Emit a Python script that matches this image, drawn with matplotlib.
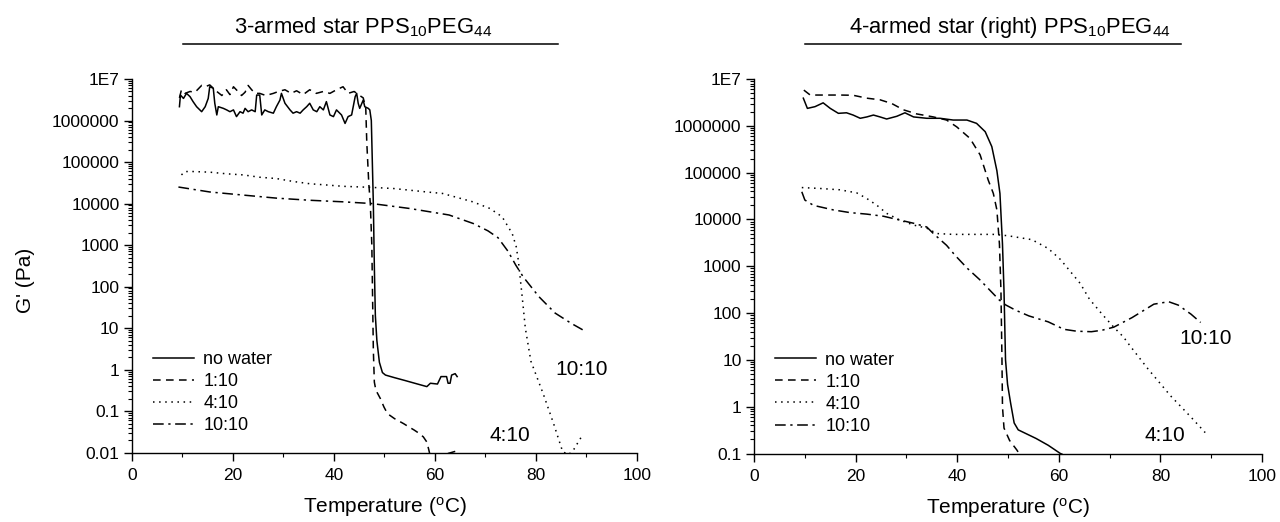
import matplotlib
matplotlib.use("Agg")
import matplotlib.pyplot as plt
from matplotlib.lines import Line2D
from matplotlib.ticker import FixedLocator, FixedFormatter, MultipleLocator, LogLocator, NullFormatter

plt.rcParams["font.family"] = ["Liberation Sans", "DejaVu Sans"]
plt.rcParams["mathtext.fontset"] = "custom"
plt.rcParams["mathtext.rm"] = "Liberation Sans"
plt.rcParams["mathtext.it"] = "Liberation Sans:italic"
plt.rcParams["mathtext.default"] = "regular"

# ---------------- data: 3-armed star (left) ----------------
l_nowater_T = [9.4, 9.6, 10.2, 10.8, 11.5, 12.1, 12.8, 13.8, 14.5, 15.1, 15.4, 16.1, 16.4, 16.8,
               17.1, 18.1, 18.75, 19.4, 20.1, 20.7, 21.4, 22.0, 22.4, 23.0, 23.7, 24.4, 24.7,
               25.3, 25.7, 26.3, 27.0, 28.0, 28.6, 29.3, 29.6, 30.3, 31.3, 31.9, 32.6, 33.3,
               33.9, 34.6, 35.2, 35.9, 36.6, 37.2, 37.9, 38.5, 39.2, 39.9, 40.5, 41.5, 42.2,
               42.8, 43.5, 44.2, 44.5, 44.8, 45.1, 45.8, 46.1, 46.8, 47.1, 47.4, 47.6, 47.8,
               48.0, 48.2, 48.5, 49.0, 49.6, 50.2, 52.0, 54.0, 56.0, 58.4, 59.1, 60.5, 61.2,
               62.3, 62.6, 63.0, 63.3, 64.0, 64.4]
l_nowater_G = [2.15e6, 4.1e6, 3.4e6, 4.5e6, 3.75e6, 2.85e6, 2.15e6, 1.63e6, 2.15e6, 3.4e6, 6.5e6,
               6.0e6, 2.6e6, 1.36e6, 2.15e6, 1.96e6, 1.8e6, 1.63e6, 1.8e6, 1.24e6, 1.63e6, 1.5e6,
               1.96e6, 1.63e6, 1.8e6, 1.63e6, 4.1e6, 4.1e6, 1.36e6, 1.8e6, 1.63e6, 1.5e6, 2.15e6,
               3.1e6, 4.5e6, 2.6e6, 1.8e6, 1.5e6, 1.63e6, 1.5e6, 1.8e6, 2.15e6, 2.6e6, 1.8e6,
               1.63e6, 2.15e6, 1.8e6, 2.85e6, 1.36e6, 1.24e6, 1.8e6, 1.36e6, 8.5e5, 1.24e6,
               1.36e6, 3.75e6, 4.5e6, 2.6e6, 1.96e6, 3.1e6, 2.15e6, 1.96e6, 1.8e6, 1.0e6, 1.0e5,
               1.0e4, 300, 20, 5, 1.5, 0.85, 0.74, 0.64, 0.55, 0.47, 0.39, 0.47, 0.45, 0.68,
               0.68, 0.47, 0.47, 0.74, 0.8, 0.68]

l_110_T = [9.4, 9.8, 10.5, 11.5, 12.5, 13.8, 14.5, 15.4, 16.1, 16.8, 17.8, 18.7, 19.4, 20.1,
           21.0, 21.7, 22.4, 23.0, 23.7, 24.4, 25.3, 26.5, 28.0, 29.0, 30.3, 31.5, 32.6, 33.9,
           35.2, 36.5, 37.9, 39.2, 40.5, 41.8, 42.8, 44.0, 45.1, 45.8, 46.3, 46.5, 46.9, 47.2,
           47.5, 47.8, 48.0, 48.3, 49.2, 49.9, 50.6, 52.0, 53.8, 54.8, 55.9, 56.9, 57.7, 58.4,
           58.8, 59.0, 61.6, 62.5, 64.3]
l_110_G = [3.5e6, 5.5e6, 4.5e6, 5.0e6, 4.8e6, 7.0e6, 6.5e6, 7.2e6, 6.0e6, 5.0e6, 4.0e6, 5.5e6,
           4.2e6, 6.5e6, 5.0e6, 4.0e6, 4.8e6, 7.0e6, 5.5e6, 4.5e6, 4.5e6, 4.0e6, 4.5e6, 5.0e6,
           5.5e6, 4.5e6, 5.2e6, 4.2e6, 5.5e6, 4.5e6, 5.0e6, 4.5e6, 5.5e6, 6.5e6, 4.5e6, 5.0e6,
           4.0e6, 3.5e6, 2.0e6, 3.0e5, 3.0e4, 1.0e4, 1.0e3, 3.0, 0.5, 0.32, 0.2, 0.126, 0.087,
           0.066, 0.05, 0.042, 0.035, 0.029, 0.024, 0.018, 0.0115, 0.009, 0.0092, 0.0095, 0.011]

l_410_T = [9.8, 10.5, 12.1, 15.4, 18.75, 22.0, 25.3, 28.6, 31.95, 35.2, 38.5, 41.8, 47.5, 51.8,
           58.4, 61.5, 64.4, 67.5, 70.9, 73.3, 75.3, 76.1, 76.5, 77.2, 77.9, 79.0, 81.5, 83.5,
           85.3, 86.5, 87.5, 89.0]
l_410_G = [4.9e4, 5.9e4, 5.9e4, 5.7e4, 5.2e4, 4.9e4, 4.3e4, 4.0e4, 3.4e4, 3.0e4, 2.8e4, 2.6e4,
           2.45e4, 2.3e4, 1.9e4, 1.75e4, 1.4e4, 1.1e4, 7.6e3, 4.8e3, 1.9e3, 910, 440, 70, 10,
           1.6, 0.25, 0.05, 0.0105, 0.009, 0.012, 0.024]

l_1010_T = [9.2, 15.4, 22.0, 28.6, 35.2, 41.8, 47.5, 55.0, 62.8, 67.6, 70.5, 72.5, 74.5, 76.0,
            77.5, 80.6, 83.8, 87.0, 89.4]
l_1010_G = [2.5e4, 1.9e4, 1.6e4, 1.35e4, 1.2e4, 1.1e4, 1.0e4, 7.6e3, 5.3e3, 3.3e3, 2.2e3,
            1.5e3, 700, 330, 170, 57, 23, 13, 8.9]

# ---------------- data: 4-armed star (right) ----------------
r_nowater_T = [9.7, 10.5, 12.0, 13.6, 15.0, 16.6, 18.2, 19.5, 20.9, 22.2, 23.5, 24.8, 26.1,
               28.1, 29.7, 31.4, 34.0, 36.6, 39.2, 41.9, 43.8, 45.5, 46.8, 47.8, 48.4, 48.9,
               49.2, 49.5, 49.9, 50.5, 51.2, 52.0, 55.5, 57.9, 60.3, 60.6]
r_nowater_G = [3.9e6, 2.36e6, 2.57e6, 3.1e6, 2.36e6, 1.85e6, 1.9e6, 1.7e6, 1.45e6, 1.55e6,
               1.7e6, 1.55e6, 1.4e6, 1.6e6, 1.9e6, 1.55e6, 1.45e6, 1.45e6, 1.33e6, 1.33e6,
               1.13e6, 7.5e5, 3.6e5, 1.1e5, 3.6e4, 3.0e3, 300, 10, 3, 1.2, 0.45, 0.32, 0.21,
               0.15, 0.1, 0.097]

r_110_T = [9.8, 11.0, 12.0, 14.3, 16.9, 19.5, 22.2, 24.8, 27.1, 29.4, 32.0, 35.3, 37.9, 39.9,
           42.5, 44.5, 46.1, 47.1, 47.8, 48.3, 48.6, 48.8, 48.9, 49.2, 50.3, 51.7, 52.6]
r_110_G = [5.8e6, 4.6e6, 4.55e6, 4.55e6, 4.55e6, 4.5e6, 3.9e6, 3.6e6, 3.0e6, 2.2e6, 1.8e6,
           1.55e6, 1.33e6, 9.5e5, 5.4e5, 2.4e5, 6.9e4, 3.6e4, 1.6e4, 3.0e3, 300, 10, 1, 0.35,
           0.19, 0.12, 0.085]

r_410_T = [9.4, 12.9, 16.9, 20.2, 22.2, 24.2, 26.1, 28.7, 31.4, 34.0, 36.0, 39.2, 43.2, 47.1,
           49.9, 54.7, 57.9, 60.3, 64.2, 66.0, 68.5, 70.8, 72.7, 74.0, 77.5, 82.0, 86.0, 88.8]
r_410_G = [4.8e4, 4.6e4, 4.3e4, 3.7e4, 2.8e4, 2.0e4, 1.35e4, 9.7e3, 7.6e3, 6.5e3, 5.0e3,
           4.8e3, 4.8e3, 4.8e3, 4.5e3, 3.7e3, 2.4e3, 1.4e3, 430, 200, 95, 50, 31, 20, 6.5, 1.7,
           0.6, 0.28]

r_1010_T = [9.4, 10.0, 11.7, 15.6, 18.9, 22.2, 25.5, 28.7, 31.4, 34.0, 35.3, 37.9, 39.6, 42.0,
            44.4, 48.3, 49.5, 51.5, 54.1, 57.9, 61.0, 63.5, 66.4, 68.5, 70.8, 74.4, 78.7, 81.6,
            83.5, 86.0, 87.9]
r_1010_G = [3.9e4, 2.6e4, 2.0e4, 1.6e4, 1.4e4, 1.3e4, 1.17e4, 9.7e3, 8.3e3, 6.9e3, 5.0e3,
            2.8e3, 1.7e3, 900, 520, 189, 150, 115, 87, 65, 45, 41, 40, 43, 50, 80, 155, 175,
            148, 95, 63]

series_labels = ["no water", "1:10", "4:10", "10:10"]
left_ticks = [0.01, 0.1, 1, 10, 100, 1000, 10000, 100000, 1000000, 1e7]
left_ticklabels = ["0.01", "0.1", "1", "10", "100", "1000", "10000", "100000", "1000000", "1E7"]
right_ticks = left_ticks[1:]
right_ticklabels = left_ticklabels[1:]

styles = ["-", (0, (5, 3.5)), (0, (1, 3)), (0, (7, 3, 1.5, 3))]

fig = plt.figure(figsize=(12.8, 5.22), dpi=100)
axL = fig.add_axes([0.1031, 0.1328, 0.3945, 0.7159])
axR = fig.add_axes([0.5891, 0.1312, 0.3969, 0.7174])


def style_axis(ax, ymin, ticks, labels):
    ax.set_yscale("log")
    ax.set_xlim(0, 100)
    ax.set_ylim(ymin, 1e7)
    for s in ["top", "right"]:
        ax.spines[s].set_visible(False)
    for s in ["left", "bottom"]:
        ax.spines[s].set_linewidth(1.0)
    ax.yaxis.set_major_locator(FixedLocator(ticks))
    ax.yaxis.set_major_formatter(FixedFormatter(labels))
    ax.yaxis.set_minor_locator(LogLocator(base=10, subs=range(2, 10), numticks=20))
    ax.yaxis.set_minor_formatter(NullFormatter())
    ax.xaxis.set_major_locator(MultipleLocator(20))
    ax.xaxis.set_minor_locator(MultipleLocator(10))
    ax.tick_params(which="major", direction="out", length=6, width=1.0, labelsize=12.5, pad=3)
    ax.tick_params(axis="x", which="major", pad=5)
    ax.tick_params(which="minor", direction="out", length=3, width=0.8)
    ax.set_xlabel("Temperature ($^{o}$C)", fontsize=15, labelpad=9)


def draw(ax, data):
    handles = []
    for (T, G), ls, lab in zip(data, styles, series_labels):
        h, = ax.plot(T, G, color="black", lw=1.1, linestyle=ls, label=lab)
        handles.append(h)
    ax.legend(handles=handles, loc="upper left", bbox_to_anchor=(0.041, 0.272),
              frameon=False, fontsize=13, handlelength=2.3, handletextpad=0.5,
              labelspacing=0.28, borderpad=0, borderaxespad=0)


draw(axL, [(l_nowater_T, l_nowater_G), (l_110_T, l_110_G), (l_410_T, l_410_G), (l_1010_T, l_1010_G)])
style_axis(axL, 0.01, left_ticks, left_ticklabels)
axL.set_ylabel("G' (Pa)", fontsize=15)
axL.yaxis.set_label_coords(-0.192, 0.462)
axL.text(89, 1, "10:10", fontsize=15, ha="center", va="center")
axL.text(74.8, 0.026, "4:10", fontsize=15, ha="center", va="center")

draw(axR, [(r_nowater_T, r_nowater_G), (r_110_T, r_110_G), (r_410_T, r_410_G), (r_1010_T, r_1010_G)])
style_axis(axR, 0.1, right_ticks, right_ticklabels)
axR.text(88.8, 29, "10:10", fontsize=15, ha="center", va="center")
axR.text(80.9, 0.245, "4:10", fontsize=15, ha="center", va="center")

# panel headings with rule underneath
fig.text(0.284, 0.948, "3-armed star PPS$_{10}$PEG$_{44}$", fontsize=15.8, ha="center", va="center")
fig.text(0.789, 0.948, "4-armed star (right) PPS$_{10}$PEG$_{44}$", fontsize=15.8, ha="center", va="center")
fig.add_artist(Line2D([0.143, 0.436], [0.9157, 0.9157], color="black", lw=1.1, transform=fig.transFigure))
fig.add_artist(Line2D([0.629, 0.923], [0.9157, 0.9157], color="black", lw=1.1, transform=fig.transFigure))

fig.savefig("out.png", dpi=100)
